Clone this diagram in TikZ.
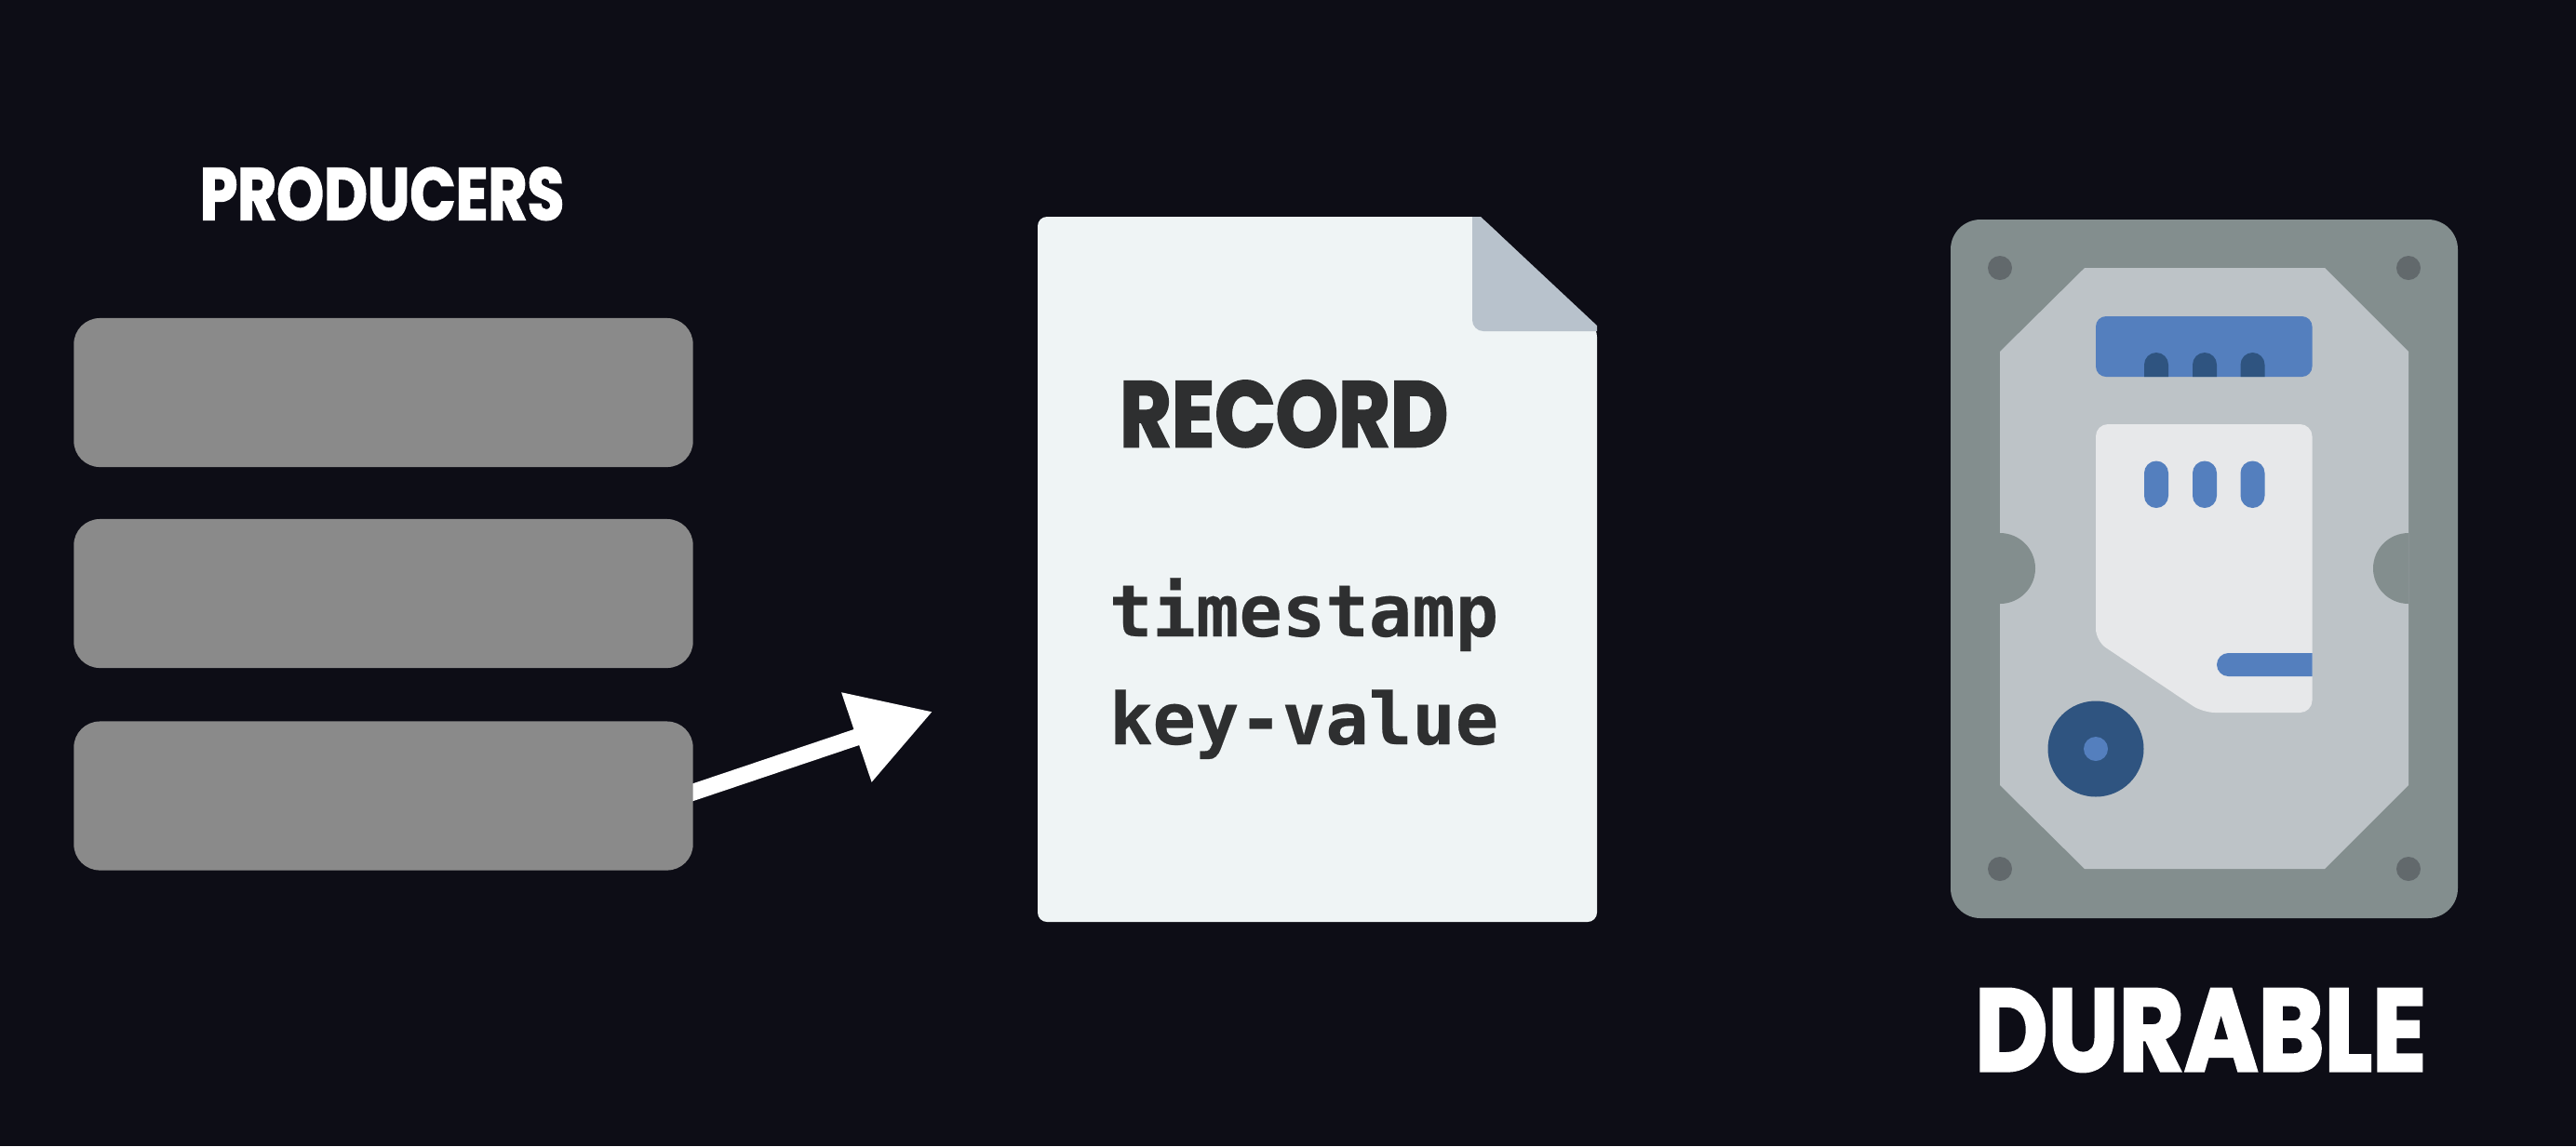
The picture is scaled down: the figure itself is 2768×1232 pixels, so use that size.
\documentclass[tikz,border=0pt]{standalone}
\usepackage{fontspec}
\usetikzlibrary{arrows.meta,calc}
\newfontfamily\heavyfont[FakeBold=2.4]{Poppins Bold}
\newfontfamily\monobold[FakeBold=0.3]{DejaVu Sans Mono Bold}
\definecolor{bgc}{HTML}{0D0D16}
\definecolor{prodgray}{HTML}{8A8A8A}
\definecolor{pagec}{HTML}{EFF4F5}
\definecolor{foldc}{HTML}{B8C2CC}
\definecolor{inkc}{HTML}{2E2F30}
\definecolor{framec}{HTML}{838E8E}
\definecolor{platec}{HTML}{BDC3C7}
\definecolor{screwc}{HTML}{62696C}
\definecolor{bluec}{HTML}{547FBE}
\definecolor{darkblue}{HTML}{2F5480}
\definecolor{cardc}{HTML}{E7E8EA}
\pgfdeclarelayer{under}
\pgfsetlayers{under,main}
\newcommand{\fitted}[3]{\resizebox{#1cm}{#2cm}{\heavyfont #3}}
\tikzset{
  x=0.01cm,y=-0.01cm,
  prodbox/.style={fill=prodgray,rounded corners=0.28cm,minimum width=6.65cm,minimum height=1.6cm,inner sep=0pt,draw=none},
  headline/.style={inner sep=0pt,outer sep=0pt,anchor=north west},
  monoline/.style={inner sep=0pt,outer sep=0pt,anchor=base west,text=inkc,font=\monobold\fontsize{21.95}{26}\selectfont},
  screw/.style={fill=screwc},
  pill/.style={fill=bluec,rounded corners=0.13cm},
}
\begin{document}
\begin{tikzpicture}
\useasboundingbox (0,0) rectangle (2768,1232);
\begin{pgfonlayer}{under}
\fill[bgc] (0,0) rectangle (2768,1232);
\end{pgfonlayer}
% producers
\node[headline,text=white] (prodlabel) at (215,180) {\fitted{3.91}{0.56}{PRODUCERS}};
\node[prodbox] (p1) at (412,422) {};
\node[prodbox] (p2) at (412,638) {};
\node[prodbox] (p3) at (412,855.5) {};
\coordinate (tip) at (1002,765);
\begin{pgfonlayer}{under}
\draw[white,line width=5.1pt,-{Triangle[length=24.5pt,width=27.5pt]}] ($(p3.east)+(-12,0)$) -- (tip);
\end{pgfonlayer}
% record page
\fill[pagec,rounded corners=0.1cm] (1115,233) -- (1591,233) -- (1716,352) -- (1716,991) -- (1115,991) -- cycle;
\fill[foldc] (1582,233) -- (1591,233) -- (1716,350) -- (1716,356) -- (1600,356) [rounded corners=0.12cm] -- (1582,356) [sharp corners] -- (1582,340) -- cycle;
\node[headline,text=inkc] (rec) at (1203,409) {\fitted{3.53}{0.71}{RECORD}};
\node[monoline] (ts) at (1192,684) {timestamp};
\node[monoline] (kv) at (1192,800) {key-value};
% disk
\fill[framec,rounded corners=0.32cm] (2096,236) rectangle (2641,987);
\foreach \sx/\sy in {2149/288,2588/288,2149/934,2588/934}
  \fill[screw] (\sx,\sy) circle[radius=13];
\fill[platec] (2240,288) -- (2498,288) -- (2588,378) -- (2588,844) -- (2498,934) -- (2240,934) -- (2149,844) -- (2149,378) -- cycle;
\fill[framec] (2149,573) arc[start angle=-90,end angle=90,radius=38] -- cycle;
\fill[framec] (2588,573) arc[start angle=270,end angle=90,radius=38] -- cycle;
\fill[bluec,rounded corners=0.11cm] (2252,340) rectangle (2484.5,405);
\foreach \tx in {2304,2356,2407.5}
  \fill[darkblue] (\tx,405) -- (\tx,392) arc[start angle=180,end angle=360,radius=13] -- (\tx+26,405) -- cycle;
\fill[cardc,rounded corners=0.13cm] (2252,456) -- (2484.5,456) -- (2484.5,766) -- (2367,766) -- (2252,689) -- cycle;
\foreach \tx in {2304,2356,2407.5}
  \fill[pill] (\tx,495.5) rectangle (\tx+26,546);
\fill[bluec] (2394.5,702) -- (2484.5,702) -- (2484.5,727) -- (2394.5,727) arc[start angle=90,end angle=270,radius=12.5] -- cycle;
\fill[darkblue] (2252,805) circle[radius=51.5];
\fill[bluec] (2252,805) circle[radius=13];
\node[headline,text=white] (dur) at (2122,1063) {\fitted{4.85}{0.88}{DURABLE}};
\end{tikzpicture}
\end{document}
